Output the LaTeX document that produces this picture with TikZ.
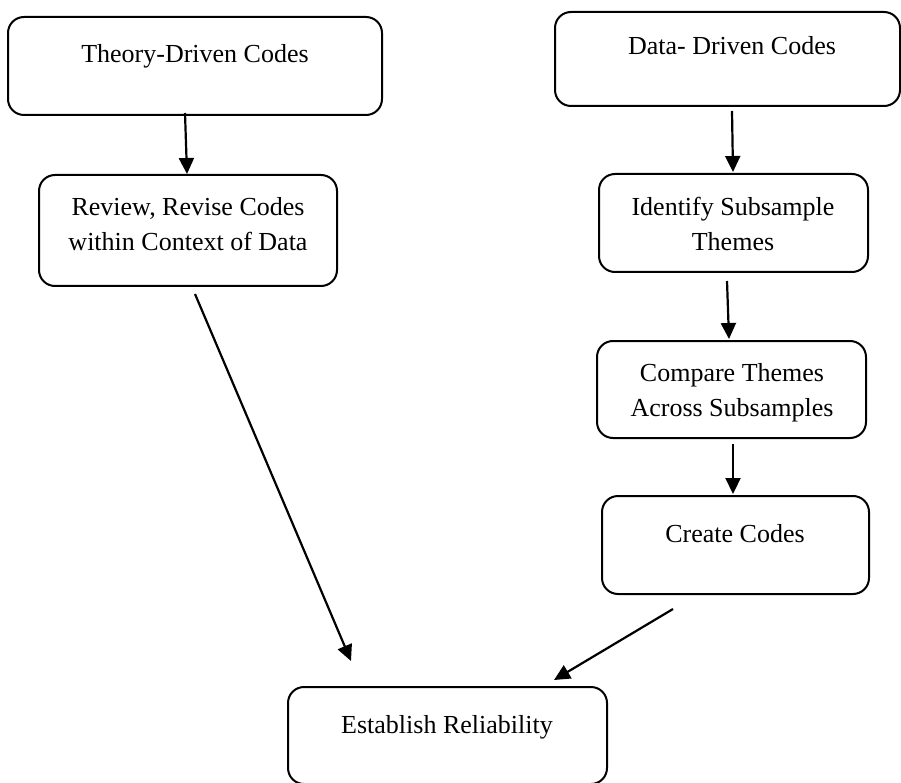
\documentclass[tikz,border=0pt]{standalone}
\usepackage{fontspec}
\setmainfont{Liberation Serif}
\usetikzlibrary{arrows.meta,calc}

\tikzset{
  stage/.style={draw=black, line width=2pt, rounded corners=16pt,
    rectangle, inner sep=0pt},
  caption/.style={inner sep=0pt, align=center,
    font=\fontsize{26}{35}\selectfont},
  flow/.style={line width=2.2pt, -{Triangle[length=16pt,width=15pt]}}
}

\begin{document}
\begin{tikzpicture}[x=1pt, y=-1pt]
  \useasboundingbox (0,0) rectangle (901,783);

  % process boxes
  \node[stage, minimum width=374pt, minimum height=98pt] (theory)    at (195,66)    {};
  \node[stage, minimum width=298pt, minimum height=111pt] (review)   at (188,230.5) {};
  \node[stage, minimum width=345pt, minimum height=94pt] (data)      at (727.5,59)  {};
  \node[stage, minimum width=269pt, minimum height=98pt] (identify)  at (733.5,223) {};
  \node[stage, minimum width=269pt, minimum height=97pt] (compare)   at (731.5,389.5) {};
  \node[stage, minimum width=267pt, minimum height=98pt] (create)    at (735.5,545) {};
  \node[stage, minimum width=319pt, minimum height=97pt] (establish) at (447.5,735.5) {};

  % box captions
  \node[caption, anchor=base] (theorytxt) at (195,63) {Theory-Driven Codes};
  \node[caption] (reviewtxt) at (188,224.5) {Review, Revise Codes\\within Context of Data};
  \node[caption, anchor=base] (datatxt) at (732,55) {Data- Driven Codes};
  \node[caption] (identifytxt) at (733,223.5) {Identify Subsample\\Themes};
  \node[caption] (comparetxt) at (732,392.3) {Compare Themes\\Across Subsamples};
  \node[caption, anchor=base] (createtxt) at (735,542) {Create Codes};
  \node[caption, anchor=base] (establishtxt) at (447,733) {Establish Reliability};

  % connectors
  \draw[flow] ($(theory.south)+(-10,-3)$) -- ($(review.north)+(-1,0)$);
  \draw[flow] ($(data.south)+(4.5,4)$) -- ($(identify.north)+(-0.5,-1)$);
  \draw[flow] ($(identify.south)+(-6.5,8)$) -- ($(compare.north)+(-2.5,-1)$);
  \draw[flow] ($(compare.south)+(1.5,5)$) -- ($(create.north)+(-2.5,-1)$);
  \draw[flow] ($(review.south)+(7,7)$) -- ($(establish.north)+(-96.5,-25)$);
  \draw[flow] ($(create.south)+(-62.5,14)$) -- ($(establish.north)+(106.5,-6)$);
\end{tikzpicture}
\end{document}
